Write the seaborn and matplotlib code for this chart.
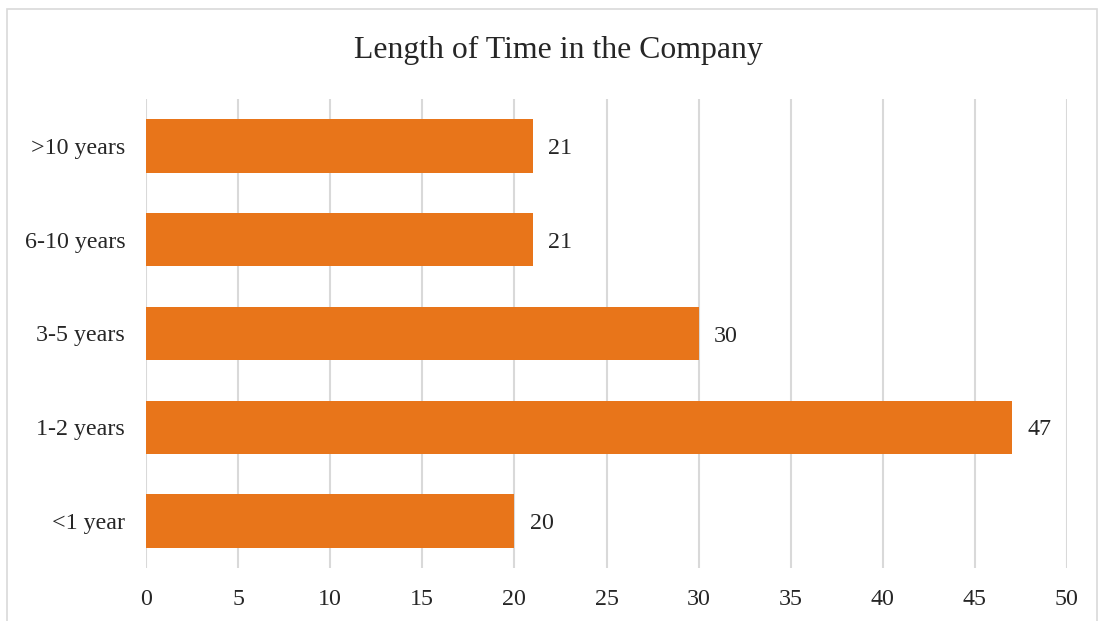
import matplotlib
matplotlib.use("Agg")
import matplotlib.pyplot as plt
import seaborn as sns
import pandas as pd
from matplotlib.patches import Rectangle

categories = [">10 years", "6-10 years", "3-5 years", "1-2 years", "<1 year"]
values = [21, 21, 30, 47, 20]
x_ticks = [0, 5, 10, 15, 20, 25, 30, 35, 40, 45, 50]
title = "Length of Time in the Company"

sns.set_theme(style="white")
plt.rcParams['font.family'] = ['Liberation Serif', 'DejaVu Serif']

df = pd.DataFrame({"category": categories, "value": values})

fig = plt.figure(figsize=(10.99, 6.21), dpi=100)
fig.patch.set_facecolor("white")
ax = fig.add_axes([146/1099, 1 - 568/621, (1067-146)/1099, (568-99)/621])

sns.barplot(data=df, x="value", y="category", order=categories, color="#E8751A",
            saturation=1, width=0.57, ax=ax, edgecolor="none")

ax.set_xlim(0, 50)
ax.set_ylim(4.5, -0.5)
ax.set_xticks(x_ticks)
ax.set_xticklabels([str(t) for t in x_ticks])
ax.set_xlabel("")
ax.set_ylabel("")
ax.grid(axis="x", color="#D9D9D9", linewidth=1.5)
ax.grid(axis="y", visible=False)
ax.set_axisbelow(True)
for s in ax.spines.values():
    s.set_visible(False)
ax.tick_params(axis="both", length=0, labelsize=17.3, colors="#262626")
ax.tick_params(axis="x", pad=15)
ax.tick_params(axis="y", pad=15)
for lbl in ax.get_yticklabels():
    lbl.set_verticalalignment("center_baseline")

for i, v in enumerate(values):
    ax.annotate(str(v), xy=(v, i), xytext=(11, 0), textcoords="offset points",
                va="center_baseline", ha="left", fontsize=17.3, color="#262626")

fig.text(558/1099, 1 - 50/621, title, ha="center", va="center", fontsize=22.9, color="#262626")

fig.add_artist(Rectangle((7/1099, -0.01), (1097-7)/1099, 1 - 9/621 + 0.01,
                         transform=fig.transFigure, fill=False, edgecolor="#D9D9D9", linewidth=1.2))

fig.savefig("out.png", dpi=100, facecolor="white")
